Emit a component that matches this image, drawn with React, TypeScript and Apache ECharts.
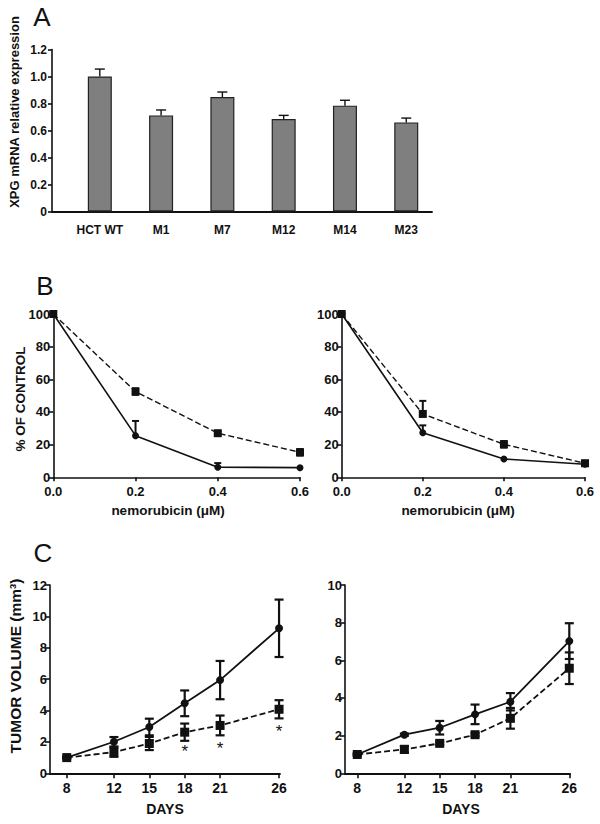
import React, { useEffect, useRef } from "react";
import * as echarts from "echarts";

// ---------- data ----------
const catsA = ["HCT WT", "M1", "M7", "M12", "M14", "M23"];
const xpgMean = [1.0, 0.712, 0.848, 0.685, 0.784, 0.66];
const xpgErr = [0.055, 0.04, 0.037, 0.027, 0.04, 0.032];

const doseB = [0, 0.2, 0.4, 0.6];
const bLeftSquare = [100, 52.5, 27, 15.3];
const bLeftSquareErrUp = [0.5, 2, 1, 2];
const bLeftSquareErrDn = [0.5, 2, 1, 2];
const bLeftCircle = [100, 25.5, 6.2, 5.9];
const bLeftCircleErrUp = [0, 9, 2.5, 0];
const bLeftCircleErrDn = [0, 0, 0, 0];

const bRightSquare = [100, 38.8, 20.2, 8.6];
const bRightSquareErrUp = [0.5, 8, 2, 1.5];
const bRightSquareErrDn = [0.5, 0, 2, 1.5];
const bRightCircle = [100, 27.3, 11.2, 8.0];
const bRightCircleErrUp = [0, 4.5, 0, 0];
const bRightCircleErrDn = [0, 0, 0, 0];

const days = [8, 12, 15, 18, 21, 26];
const cLeftCircle = [1.0, 2.01, 2.95, 4.46, 5.94, 9.24];
const cLeftCircleErr = [0.05, 0.3, 0.53, 0.82, 1.22, 1.83];
const cLeftSquare = [1.0, 1.35, 1.9, 2.62, 3.05, 4.08];
const cLeftSquareErr = [0.05, 0.3, 0.42, 0.55, 0.63, 0.58];
const starDays = [18, 21, 26];
const starY = [1.38, 1.6, 2.65];

const cRightCircle = [1.0, 2.05, 2.42, 3.13, 3.8, 7.02];
const cRightCircleErr = [0.05, 0.06, 0.36, 0.52, 0.46, 0.95];
const cRightSquare = [1.0, 1.27, 1.59, 2.05, 2.92, 5.58];
const cRightSquareErr = [0.05, 0.18, 0.08, 0.08, 0.55, 0.84];

// ---------- styling ----------
const FONT = '"Liberation Sans", Arial, Helvetica, sans-serif';
const INK = "#111";

function errData(xs: number[], ys: number[], up: number[], dn: number[]) {
  return xs.map((x, i) => [x, ys[i] - dn[i], ys[i] + up[i], ys[i]]);
}

function errSeries(idx: number, data: number[][], capHalf: number, lw: number) {
  return {
    type: "custom",
    xAxisIndex: idx,
    yAxisIndex: idx,
    z: 4,
    silent: true,
    clip: false,
    encode: { x: 0, y: [1, 2, 3] },
    data,
    renderItem: (params: any, api: any) => {
      const x = api.value(0);
      const lo = api.value(1);
      const hi = api.value(2);
      const y = api.value(3);
      const pLo = api.coord([x, lo]);
      const pHi = api.coord([x, hi]);
      const pY = api.coord([x, y]);
      const style = { stroke: INK, lineWidth: lw, fill: "none" };
      const children: any[] = [];
      if (Math.abs(pLo[1] - pHi[1]) < 1) return { type: "group", children };
      children.push({
        type: "line",
        shape: { x1: pY[0], y1: pLo[1], x2: pY[0], y2: pHi[1] },
        style,
      });
      if (hi > y + 1e-9)
        children.push({
          type: "line",
          shape: { x1: pHi[0] - capHalf, y1: pHi[1], x2: pHi[0] + capHalf, y2: pHi[1] },
          style,
        });
      if (lo < y - 1e-9)
        children.push({
          type: "line",
          shape: { x1: pLo[0] - capHalf, y1: pLo[1], x2: pLo[0] + capHalf, y2: pLo[1] },
          style,
        });
      return { type: "group", children };
    },
  };
}

function lineSeries(
  idx: number,
  xs: number[],
  ys: number[],
  symbol: string,
  size: number,
  dashed: boolean,
  lw: number
) {
  return {
    type: "line",
    xAxisIndex: idx,
    yAxisIndex: idx,
    data: xs.map((x, i) => [x, ys[i]]),
    symbol,
    symbolSize: size,
    showSymbol: true,
    z: 3,
    clip: false,
    itemStyle: { color: INK, borderWidth: 0 },
    lineStyle: { color: INK, width: lw, type: dashed ? [6, 3] : "solid" },
  };
}

function valAxis(
  gridIndex: number,
  min: number,
  max: number,
  interval: number,
  fontSize: number,
  fmt: (v: number) => string,
  margin: number,
  tickLen: number
) {
  return {
    type: "value",
    gridIndex,
    min,
    max,
    interval,
    axisLine: { show: true, onZero: false, lineStyle: { color: INK, width: 1.6 } },
    axisTick: { show: true, length: tickLen, lineStyle: { color: INK, width: 1.6 } },
    axisLabel: {
      fontFamily: FONT,
      fontWeight: "bold",
      color: INK,
      fontSize,
      margin,
      formatter: fmt,
    },
    splitLine: { show: false },
  };
}

function customXAxis(
  gridIndex: number,
  min: number,
  max: number,
  values: number[],
  fontSize: number,
  fmt: (v: number) => string,
  margin: number,
  showTicks: boolean
) {
  return {
    type: "value",
    gridIndex,
    min,
    max,
    axisLine: { show: true, onZero: false, lineStyle: { color: INK, width: 1.8 } },
    axisTick: {
      show: showTicks,
      length: 5,
      customValues: values,
      lineStyle: { color: INK, width: 1.6 },
    },
    axisLabel: {
      fontFamily: FONT,
      fontWeight: "bold",
      color: INK,
      fontSize,
      margin,
      customValues: values,
      formatter: fmt,
    },
    splitLine: { show: false },
  };
}

function titleText(x: number, y: number, text: string, fontSize: number, rotate = false, bold = true) {
  return {
    type: "text",
    x,
    y,
    rotation: rotate ? Math.PI / 2 : 0,
    style: {
      text,
      fill: INK,
      fontFamily: FONT,
      fontWeight: bold ? "bold" : "normal",
      fontSize,
      align: "center",
      verticalAlign: "middle",
    },
  };
}

export default function App() {
  const ref = useRef<HTMLDivElement>(null);

  useEffect(() => {
    if (!ref.current) return;
    const chart = echarts.init(ref.current, undefined, { renderer: "svg" });

    const fmt1 = (v: number) => (Math.abs(v) < 1e-9 ? "0" : v.toFixed(1));
    const fmtB = (v: number) => v.toFixed(1);
    const fmtInt = (v: number) => String(Math.round(v));

    const option: any = {
      animation: false,
      backgroundColor: "#ffffff",
      grid: [
        { left: 52, top: 49.5, width: 380, height: 162 },
        { left: 53.3, top: 314, width: 246.7, height: 163.3 },
        { left: 341.7, top: 314, width: 243.3, height: 163.3 },
        { left: 50, top: 585, width: 230, height: 188.3 },
        { left: 345, top: 585, width: 225, height: 188.3 },
      ],
      xAxis: [
        customXAxis(0, -0.78, 5.42, [0, 1, 2, 3, 4, 5], 12, (v) => catsA[Math.round(v)] ?? "", 12, false),
        valAxis(1, 0, 0.6, 0.2, 13, fmtB, 8, 4),
        valAxis(2, 0, 0.6, 0.2, 13, fmtB, 8, 4),
        customXAxis(3, 6.58, 26.08, days, 14, fmtInt, 8, true),
        customXAxis(4, 6.96, 26.06, days, 14, fmtInt, 8, true),
      ],
      yAxis: [
        valAxis(0, 0, 1.2, 0.2, 12, fmt1, 5, 4),
        valAxis(1, 0, 100, 20, 13, fmtInt, 3, 5),
        valAxis(2, 0, 100, 20, 13, fmtInt, 3, 5),
        valAxis(3, 0, 12, 2, 13, fmtInt, 3, 5),
        valAxis(4, 0, 10, 2, 13, fmtInt, 3, 5),
      ],
      series: [
        // Panel A
        {
          type: "bar",
          xAxisIndex: 0,
          yAxisIndex: 0,
          data: catsA.map((_, i) => [i, xpgMean[i]]),
          barWidth: 24,
          itemStyle: { color: "#7f7f7f", borderColor: "#222", borderWidth: 1.2 },
          z: 2,
        },
        errSeries(
          0,
          errData(
            catsA.map((_, i) => i),
            xpgMean,
            xpgErr,
            xpgMean.map(() => 0)
          ),
          5,
          1.4
        ),
        // Panel B left
        lineSeries(1, doseB, bLeftSquare, "rect", 8, true, 1.4),
        lineSeries(1, doseB, bLeftCircle, "circle", 7, false, 1.6),
        errSeries(1, errData(doseB, bLeftSquare, bLeftSquareErrUp, bLeftSquareErrDn), 3.5, 2),
        errSeries(1, errData(doseB, bLeftCircle, bLeftCircleErrUp, bLeftCircleErrDn), 3.5, 2),
        // Panel B right
        lineSeries(2, doseB, bRightSquare, "rect", 8, true, 1.4),
        lineSeries(2, doseB, bRightCircle, "circle", 7, false, 1.6),
        errSeries(2, errData(doseB, bRightSquare, bRightSquareErrUp, bRightSquareErrDn), 3.5, 2),
        errSeries(2, errData(doseB, bRightCircle, bRightCircleErrUp, bRightCircleErrDn), 3.5, 2),
        // Panel C left
        lineSeries(3, days, cLeftCircle, "circle", 8, false, 1.8),
        lineSeries(3, days, cLeftSquare, "rect", 9, true, 1.8),
        errSeries(3, errData(days, cLeftCircle, cLeftCircleErr, cLeftCircleErr), 4.5, 2.2),
        errSeries(3, errData(days, cLeftSquare, cLeftSquareErr, cLeftSquareErr), 4.5, 2.2),
        {
          type: "custom",
          xAxisIndex: 3,
          yAxisIndex: 3,
          silent: true,
          encode: { x: 0, y: 1 },
          data: starDays.map((d, i) => [d, starY[i]]),
          renderItem: (params: any, api: any) => {
            const p = api.coord([api.value(0), api.value(1)]);
            return {
              type: "text",
              x: p[0],
              y: p[1],
              style: {
                text: "*",
                fill: INK,
                fontFamily: FONT,
                fontSize: 17,
                align: "center",
                verticalAlign: "middle",
              },
            };
          },
        },
        // Panel C right
        lineSeries(4, days, cRightCircle, "circle", 8, false, 1.8),
        lineSeries(4, days, cRightSquare, "rect", 9, true, 1.8),
        errSeries(4, errData(days, cRightCircle, cRightCircleErr, cRightCircleErr), 4.5, 2.2),
        errSeries(4, errData(days, cRightSquare, cRightSquareErr, cRightSquareErr), 4.5, 2.2),
      ],
      graphic: [
        titleText(42, 17, "A", 26, false, false),
        titleText(45, 286, "B", 26, false, false),
        titleText(43, 553, "C", 26, false, false),
        titleText(14, 112, "XPG mRNA relative expression", 13, true),
        titleText(20, 399, "% OF CONTROL", 13.5, true),
        titleText(168, 510, "nemorubicin (μM)", 13.5),
        titleText(458, 510, "nemorubicin (μM)", 13.5),
        titleText(15, 666, "TUMOR VOLUME (mm³)", 15.5, true),
        titleText(165, 809, "DAYS", 14),
        titleText(461, 809, "DAYS", 14),
      ],
    };

    chart.setOption(option);
    return () => {
      chart.dispose();
    };
  }, []);

  return (
    <div
      ref={ref}
      style={{ position: "absolute", left: 0, top: 0, width: 600, height: 824, background: "#fff" }}
    />
  );
}
